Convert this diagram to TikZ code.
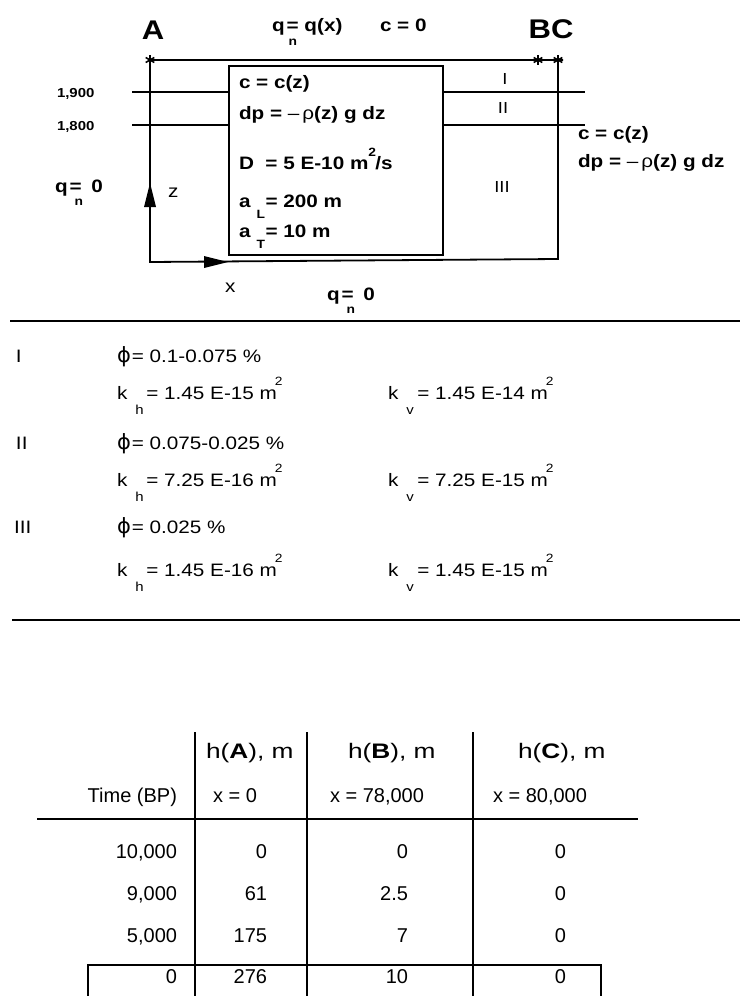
\documentclass[tikz,border=0pt]{standalone}
\usepackage{fontspec}
\setmainfont[FakeStretch=1.15]{Liberation Sans}
\newfontfamily\tabfont{Liberation Sans}
\newfontfamily\headfont[FakeStretch=1.25]{Liberation Sans}
\newfontfamily\phifont{DejaVu Sans}
\usetikzlibrary{calc}
\newcommand{\fs}[1]{\fontsize{#1}{#1}\selectfont}
\newcommand{\lo}[3]{\makebox[0pt][l]{\hspace*{#2}\raisebox{-#1}{\fs{12}#3}}}
\newcommand{\hi}[3]{\makebox[0pt][l]{\hspace*{#2}\raisebox{#1}{\fs{12}#3}}}
\newcommand{\klo}[2]{\makebox[0pt][l]{\hspace*{#1}\raisebox{-15pt}{\fs{13}#2}}}
\newcommand{\kk}[2]{k\klo{8pt}{#1}\hspace{19pt}= #2 m\hi{14pt}{-2pt}{2}}
\newcommand{\ph}{{\phifont\fs{21}ϕ}}
\begin{document}
\begin{tikzpicture}[x=1pt,y=-1pt,
  every node/.style={inner sep=0pt,outer sep=0pt,anchor=base west},
  bt/.style={font=\bfseries\fs{18}},
  big/.style={font=\bfseries\fs{27},anchor=base},
  rt/.style={font=\fs{18}},
  rn/.style={font=\fs{16},anchor=base},
  tt/.style={font=\tabfont\fs{20}},
  th/.style={font=\headfont\fs{21}},
  frame/.style={line width=1.8pt},
  thinbox/.style={line width=1.2pt},
  layer/.style={line width=1.5pt},
  sep/.style={line width=2.2pt},
  tl/.style={line width=1.3pt},
  mk/.style={line width=1.6pt}]
\useasboundingbox (0,0) rectangle (740,996);

% ---------- top labels
\node[big] (lA) at (153,39) {A};
\node[big] (lBC) at (551,38) {BC};
\node[bt] (lqx) at (272,31) {q\hspace{2pt}\lo{14pt}{2pt}{n}= q(x)};
\node[bt] (lc0) at (380,31) {c = 0};
\node[font=\bfseries\fs{13}] (d19) at (57,97) {1,900};
\node[font=\bfseries\fs{13}] (d18) at (57,130) {1,800};

% ---------- frame
\coordinate (pA) at (150,60);
\coordinate (pB) at (538,60);
\coordinate (pC) at (558,60);
\coordinate (topend) at (563,60);
\coordinate (O) at (150,262);
\coordinate (BR) at (558,259);
\draw[frame] (topend) -- (pA) -- (O) -- (BR) -- (pC);
\coordinate (zt) at (150,183);
\coordinate (xt) at (228,262);
\fill (zt) -- ($(zt)+(-6,24)$) -- ($(zt)+(6,24)$) -- cycle;
\fill (xt) -- ($(xt)+(-24,-6)$) -- ($(xt)+(-24,6)$) -- cycle;
\foreach \p in {pA,pB,pC}{
  \draw[mk] ($(\p)+(0,-5)$) -- ($(\p)+(0,5)$);
  \draw[mk] ($(\p)+(-4.3,-2.5)$) -- ($(\p)+(4.3,2.5)$);
  \draw[mk] ($(\p)+(-4.3,2.5)$) -- ($(\p)+(4.3,-2.5)$);
}

% ---------- inner box
\node[draw,thinbox,minimum width=214pt,minimum height=189pt,anchor=north west] (box) at (229,66) {};

% ---------- layer lines
\coordinate (L1a) at (132,92);
\coordinate (L1b) at (585,92);
\coordinate (L2a) at (132,125);
\coordinate (L2b) at (585,125);
\draw[layer] (L1a) -- (box.west |- L1a);
\draw[layer] (box.east |- L1b) -- (L1b);
\draw[layer] (L2a) -- (box.west |- L2a);
\draw[layer] (box.east |- L2b) -- (L2b);

% ---------- box text
\node[bt] (b1) at (239,88) {c = c(z)};
\node[bt] (b2) at (239,119) {dp = {\mdseries –\,ρ}(z) g dz};
\node[bt] (b3) at (239,169) {D\ \ = 5 E-10 m\hi{13pt}{0pt}{2}\hspace{7pt}/s};
\node[bt] (b4) at (239,207) {a\lo{11pt}{6pt}{L}\hspace{15pt}= 200 m};
\node[bt] (b5) at (239,237) {a\lo{11pt}{6pt}{T}\hspace{15pt}= 10 m};

% ---------- right text
\node[bt] (r1) at (578,139) {c = c(z)};
\node[bt] (r2) at (578,167) {dp = {\mdseries –\,ρ}(z) g dz};

% ---------- region labels
\node[rn] (rI) at (505,84) {I};
\node[rn] (rII) at (503,113) {II};
\node[rn] (rIII) at (502,192) {III};

% ---------- boundary labels
\node[bt] (lq0) at (55,192) {q\hspace{2pt}\lo{13pt}{5pt}{n}=\hspace{4pt} 0};
\node[rt] (lz) at (168,197) {z};
\node[rt] (lx) at (225,292) {x};
\node[bt] (bq0) at (327,300) {q\hspace{2pt}\lo{13pt}{5pt}{n}=\hspace{4pt} 0};

% ---------- separator 1
\coordinate (s1a) at (10,321);
\coordinate (s1b) at (740,321);
\draw[sep] (s1a) -- (s1b);

% ---------- properties
\node[rt] (m1) at (16,362) {I};
\node[rt] (p1) at (117,362) {\ph\hspace{1pt}= 0.1-0.075 \%};
\node[rt] (kh1) at (117,399) {\kk{h}{1.45 E-15}};
\node[rt] (kv1) at (388,399) {\kk{v}{1.45 E-14}};
\node[rt] (m2) at (16,449) {II};
\node[rt] (p2) at (117,449) {\ph\hspace{1pt}= 0.075-0.025 \%};
\node[rt] (kh2) at (117,486) {\kk{h}{7.25 E-16}};
\node[rt] (kv2) at (388,486) {\kk{v}{7.25 E-15}};
\node[rt] (m3) at (14,533) {III};
\node[rt] (p3) at (117,533) {\ph\hspace{1pt}= 0.025 \%};
\node[rt] (kh3) at (117,576) {\kk{h}{1.45 E-16}};
\node[rt] (kv3) at (388,576) {\kk{v}{1.45 E-15}};

% ---------- separator 2
\coordinate (s2a) at (12,620);
\coordinate (s2b) at (740,620);
\draw[sep] (s2a) -- (s2b);

% ---------- table
\coordinate (v1t) at (195,732); \coordinate (v1b) at (195,996);
\coordinate (v2t) at (307,732); \coordinate (v2b) at (307,996);
\coordinate (v3t) at (473,732); \coordinate (v3b) at (473,996);
\draw[tl] (v1t) -- (v1b);
\draw[tl] (v2t) -- (v2b);
\draw[tl] (v3t) -- (v3b);
\coordinate (hl) at (37,819); \coordinate (hr) at (638,819);
\draw[tl] (hl) -- (hr);
\coordinate (bx1) at (88,996); \coordinate (bx2) at (88,965);
\coordinate (bx3) at (601,965); \coordinate (bx4) at (601,996);
\draw[tl] (bx1) -- (bx2) -- (bx3) -- (bx4);

\node[th] (hA) at (206,758) {h(\textbf{A}), m};
\node[th] (hB) at (348,758) {h(\textbf{B}), m};
\node[th] (hC) at (518,758) {h(\textbf{C}), m};
\node[tt,anchor=base east] (tbp) at (177,802) {Time (BP)};
\node[tt] (xA) at (213,802) {x = 0};
\node[tt] (xB) at (330,802) {x = 78,000};
\node[tt] (xC) at (493,802) {x = 80,000};

\node[tt,anchor=base east] (t1) at (177,858) {10,000};
\node[tt,anchor=base east] (a1) at (267,858) {0};
\node[tt,anchor=base east] (b1v) at (408,858) {0};
\node[tt,anchor=base east] (c1) at (566,858) {0};
\node[tt,anchor=base east] (t2) at (177,900) {9,000};
\node[tt,anchor=base east] (a2) at (267,900) {61};
\node[tt,anchor=base east] (b2v) at (408,900) {2.5};
\node[tt,anchor=base east] (c2) at (566,900) {0};
\node[tt,anchor=base east] (t3) at (177,942) {5,000};
\node[tt,anchor=base east] (a3) at (267,942) {175};
\node[tt,anchor=base east] (b3v) at (408,942) {7};
\node[tt,anchor=base east] (c3) at (566,942) {0};
\node[tt,anchor=base east] (t4) at (177,983) {0};
\node[tt,anchor=base east] (a4) at (267,983) {276};
\node[tt,anchor=base east] (b4v) at (408,983) {10};
\node[tt,anchor=base east] (c4) at (566,983) {0};
\end{tikzpicture}
\end{document}
